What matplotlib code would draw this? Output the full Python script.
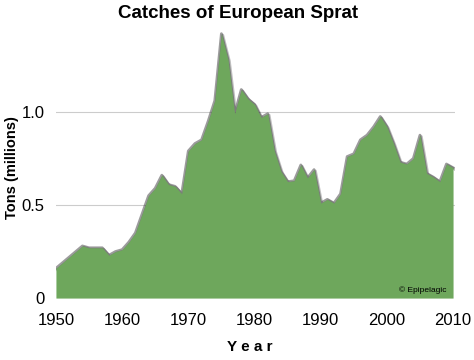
import matplotlib.pyplot as plt
import matplotlib.patheffects as pe

plt.rcParams['font.family'] = ['Liberation Sans', 'DejaVu Sans']

# catches of European sprat, millions of tons
years = list(range(1950, 2011))
catch = [0.16, 0.19, 0.22, 0.25, 0.28, 0.27, 0.27, 0.27, 0.23, 0.25,
         0.26, 0.30, 0.35, 0.45, 0.55, 0.59, 0.66, 0.61, 0.60, 0.56,
         0.79, 0.83, 0.85, 0.95, 1.06, 1.42, 1.28, 0.99, 1.12, 1.07,
         1.04, 0.97, 0.99, 0.79, 0.68, 0.625, 0.63, 0.715, 0.645, 0.69,
         0.51, 0.53, 0.51, 0.56, 0.76, 0.775, 0.85, 0.875, 0.92, 0.975,
         0.92, 0.83, 0.73, 0.72, 0.75, 0.875, 0.67, 0.65, 0.625, 0.72,
         0.70]
xticks = [1950, 1960, 1970, 1980, 1990, 2000, 2010]
yticks = [0, 0.5, 1.0]
ytick_labels = ['0', '0.5', '1.0']

fig = plt.figure(figsize=(4.74, 3.6), dpi=100)
ax = fig.add_axes([0.118, 0.172, 0.842, 0.75])

# soft dark outline along the top edge
ax.plot(years, catch, color='#3a3a3a', lw=2.0, alpha=0.5, zorder=2,
        path_effects=[pe.SimpleLineShadow(offset=(1, -1), alpha=0.25), pe.Normal()])
ax.fill_between(years, 0, catch, color='#6ea75c', lw=0, zorder=3)

for v in [0.5, 1.0]:
    ax.axhline(v, color='#cccccc', lw=0.8, zorder=1)

ax.set_xlim(1950, 2010.3)
ax.set_ylim(0, 1.45)
ax.set_xticks(xticks)
ax.set_xticklabels([str(t) for t in xticks], fontsize=12)
ax.set_yticks(yticks)
ax.set_yticklabels(ytick_labels, fontsize=12)
ax.tick_params(axis='y', length=0, pad=8)
ax.tick_params(axis='x', length=0, pad=11)
for s in ax.spines.values():
    s.set_visible(False)

fig.text(12 / 474, 1 - 168 / 360, 'Tons (millions)', rotation=90, ha='center',
         va='center', fontsize=10.5, fontweight='bold')
fig.text(250 / 474, 1 - 347 / 360, 'Y e a r', ha='center', va='center',
         fontsize=11, fontweight='bold')
fig.text(238 / 474, 1 - 14 / 360, 'Catches of European Sprat', ha='center', va='center',
         fontsize=13.5, fontweight='bold')
ax.text(2009, 0.02, '© Epipelagic', fontsize=6, ha='right', va='bottom', zorder=4)

plt.savefig('out.png', dpi=100)
